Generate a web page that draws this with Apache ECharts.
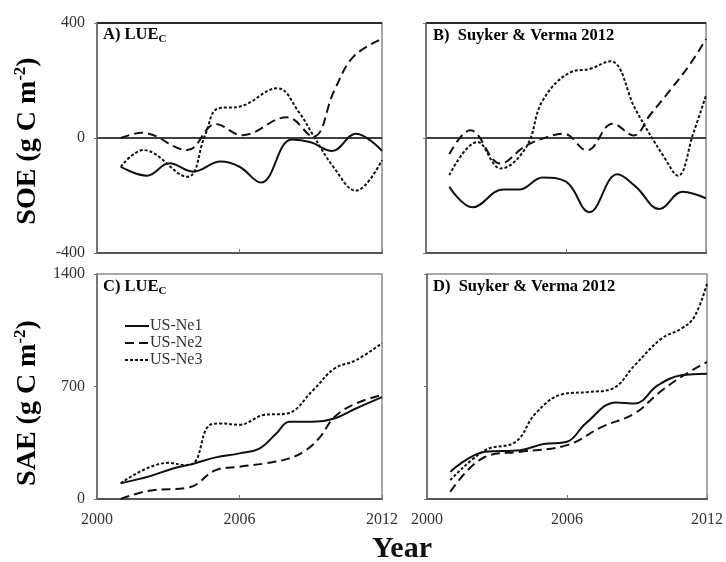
<!DOCTYPE html>
<html>
<head>
<meta charset="utf-8">
<script src="https://cdn.jsdelivr.net/npm/echarts@6/dist/echarts.min.js"></script>
<style>html,body{margin:0;padding:0;background:#fff;}#c{width:726px;height:562px;}</style>
</head>
<body>
<div id="c"></div>
<script>
// ---- data: [year, value] ----
const seriesNames = ['US-Ne1', 'US-Ne2', 'US-Ne3'];
const xTicks = [2000, 2006, 2012];
const soeTicks = [-400, 0, 400];
const saeTicks = [0, 700, 1400];

// Panel A: SOE, LUEc
const A_ne1 = [[2001,-100],[2002.1,-131],[2003.05,-88],[2004.05,-117],[2005.2,-82],[2006,-100],[2006.9,-155],[2008.2,-5],[2009,-15],[2009.9,-45],[2010.9,15],[2012,-45]];
const A_ne2 = [[2001,0],[2001.9,18],[2003.8,-42],[2005,49],[2006.1,10],[2008,72],[2009.1,5],[2010,167],[2010.8,283],[2012,345]];
const A_ne3 = [[2001,-100],[2001.95,-42],[2003.8,-135],[2004.55,10],[2005.1,103],[2006,109],[2007.6,173],[2008.5,90],[2009.1,10],[2009.95,-100],[2010.9,-183],[2012,-77]];
// Panel B: SOE, Suyker & Verma 2012
const B_ne1 = [[2001,-170],[2002,-241],[2003.3,-179],[2004,-179],[2005,-137],[2006,-152],[2007,-258],[2008.2,-126],[2009,-170],[2010,-247],[2011,-187],[2012,-210]];
const B_ne2 = [[2001,-56],[2001.9,27],[2003.2,-89],[2004.2,-31],[2005,-2],[2005.9,15],[2006.9,-43],[2008,50],[2008.9,9],[2009.6,80],[2010.5,170],[2011.3,255],[2012,344]];
const B_ne3 = [[2001,-129],[2002.2,-14],[2003.2,-106],[2004.3,-31],[2005,130],[2006.2,229],[2007,240],[2007.9,267],[2009,96],[2010.2,-66],[2010.8,-131],[2011.45,15],[2012,148]];
// Panel C: SAE, LUEc
const C_ne1 = [[2001,98],[2002.2,141],[2003.2,190],[2004,217],[2005,259],[2006,284],[2006.85,315],[2007.55,408],[2008.1,480],[2009.1,480],[2010,501],[2010.9,563],[2012,634]];
const C_ne2 = [[2001,0],[2002.2,52],[2003.9,73],[2005,180],[2006,201],[2007.1,222],[2008.1,253],[2008.8,304],[2009.4,387],[2010,511],[2010.9,594],[2012,648]];
const C_ne3 = [[2001,98],[2003,225],[2003.7,212],[2004.1,225],[2004.7,455],[2005.2,470],[2006,462],[2007,522],[2008,532],[2009.1,677],[2010,812],[2010.9,863],[2012,970]];
// Panel D: SAE, Suyker & Verma 2012
const D_ne1 = [[2001,170],[2002.5,294],[2004,304],[2005,342],[2006,356],[2006.8,470],[2008.1,601],[2008.9,594],[2009.9,708],[2010.9,770],[2012,780]];
const D_ne2 = [[2001,45],[2002.5,263],[2004,294],[2006,335],[2007.5,449],[2008.9,532],[2009.9,656],[2010.9,760],[2012,853]];
const D_ne3 = [[2001,118],[2002.5,304],[2003.8,356],[2004.65,532],[2005.8,652],[2006.95,666],[2007.95,687],[2008.9,832],[2010.05,998],[2010.9,1060],[2011.45,1132],[2012,1340]];

const panelData = [[A_ne1, A_ne2, A_ne3],[B_ne1, B_ne2, B_ne3],[C_ne1, C_ne2, C_ne3],[D_ne1, D_ne2, D_ne3]];

const FONT = '"Liberation Serif", "Times New Roman", serif';
const lineStyles = [
  {type:'solid', width:2, color:'#111'},
  {type:[9,5], width:2, color:'#111'},
  {type:[3,2], width:2, color:'#111'}
];

const grids = [
  {left:97, top:23, width:285, height:230},
  {left:426, top:23, width:280, height:230},
  {left:97, top:274, width:285, height:225},
  {left:427, top:274, width:282, height:225}
].map(g => Object.assign({show:true, borderColor:'#8a8a8a', borderWidth:1.5, backgroundColor:'transparent'}, g));

const plain = v => String(v);

const xAxes = grids.map((g,i) => ({
  type:'value', gridIndex:i, min:xTicks[0], max:xTicks[2], interval:xTicks[1]-xTicks[0],
  axisLine:{show:true, onZero:false, lineStyle:{color:'#555', width:2}},
  axisTick:{show:true, inside:true, length:4, lineStyle:{color:'#777'}},
  axisLabel:{show:i>=2, margin:13, fontFamily:FONT, fontSize:16, color:'#333', formatter:plain,
    showMinLabel:true, showMaxLabel:true},
  splitLine:{show:false}
}));

const yAxes = grids.map((g,i) => {
  const ticks = i < 2 ? soeTicks : saeTicks;
  return {
    type:'value', gridIndex:i, min:ticks[0], max:ticks[2], interval:ticks[1]-ticks[0],
    axisLine:{show:true, lineStyle:{color:'#666', width:1.5}},
    axisTick:{show:true, inside:false, length:3, lineStyle:{color:'#777'}},
    axisLabel:{show:(i===0||i===2), margin:12, fontFamily:FONT, fontSize:16, color:'#333', formatter:plain},
    splitLine:{show:i<2, lineStyle:{color:'#000', width:1.5}}
  };
});

const series = [];
panelData.forEach((pd, pi) => {
  pd.forEach((d, si) => {
    series.push({
      name: seriesNames[si], type:'line', xAxisIndex:pi, yAxisIndex:pi,
      data:d, smooth:0.4, showSymbol:false, symbol:'none',
      lineStyle:lineStyles[si], itemStyle:{color:'#111'}, silent:true, z:3
    });
  });
});

const titleRich = {
  b:{fontFamily:FONT, fontWeight:'bold', fontSize:16.5, color:'#111'},
  sub:{fontFamily:FONT, fontWeight:'bold', fontSize:11, color:'#111', padding:[8,0,0,0]}
};
const axisRich = {
  a:{fontFamily:FONT, fontWeight:'bold', fontSize:28, color:'#111'},
  sup:{fontFamily:FONT, fontWeight:'bold', fontSize:17, color:'#111', padding:[0,0,14,0]}
};

function label(x, y, text, rich, rot) {
  return {type:'text', x:x, y:y, rotation:rot||0,
    style:{text:text, rich:rich, textAlign: rot ? 'center' : 'left', textVerticalAlign:'middle'}};
}

const option = {
  animation:false,
  backgroundColor:'#fff',
  grid:grids, xAxis:xAxes, yAxis:yAxes, series:series,
  legend:{
    data:seriesNames, orient:'vertical', left:119, top:313,
    itemWidth:24, itemHeight:14, itemGap:1,
    itemStyle:{color:'rgba(0,0,0,0)', borderColor:'rgba(0,0,0,0)', borderWidth:0, opacity:0},
    textStyle:{fontFamily:FONT, fontSize:16, color:'#333', padding:[0,0,0,-4]}, selectedMode:false
  },
  graphic:[
    label(103, 35, '{b|A) LUE}{sub|C}', titleRich),
    label(433, 36, '{b|B)  Suyker & Verma 2012}', titleRich),
    label(103, 287, '{b|C) LUE}{sub|C}', titleRich),
    label(433, 287, '{b|D)  Suyker & Verma 2012}', titleRich),
    label(28, 141, '{a|SOE (g C m}{sup|-2}{a|)}', axisRich, Math.PI/2),
    label(28, 403, '{a|SAE (g C m}{sup|-2}{a|)}', axisRich, Math.PI/2),
    {type:'text', x:402, y:549, style:{text:'Year', font:'bold 30px ' + FONT, fill:'#111', textAlign:'center', textVerticalAlign:'middle'}}
  ]
};

const chart = echarts.init(document.getElementById('c'), null, {renderer:'canvas'});
chart.setOption(option);
</script>
</body>
</html>
